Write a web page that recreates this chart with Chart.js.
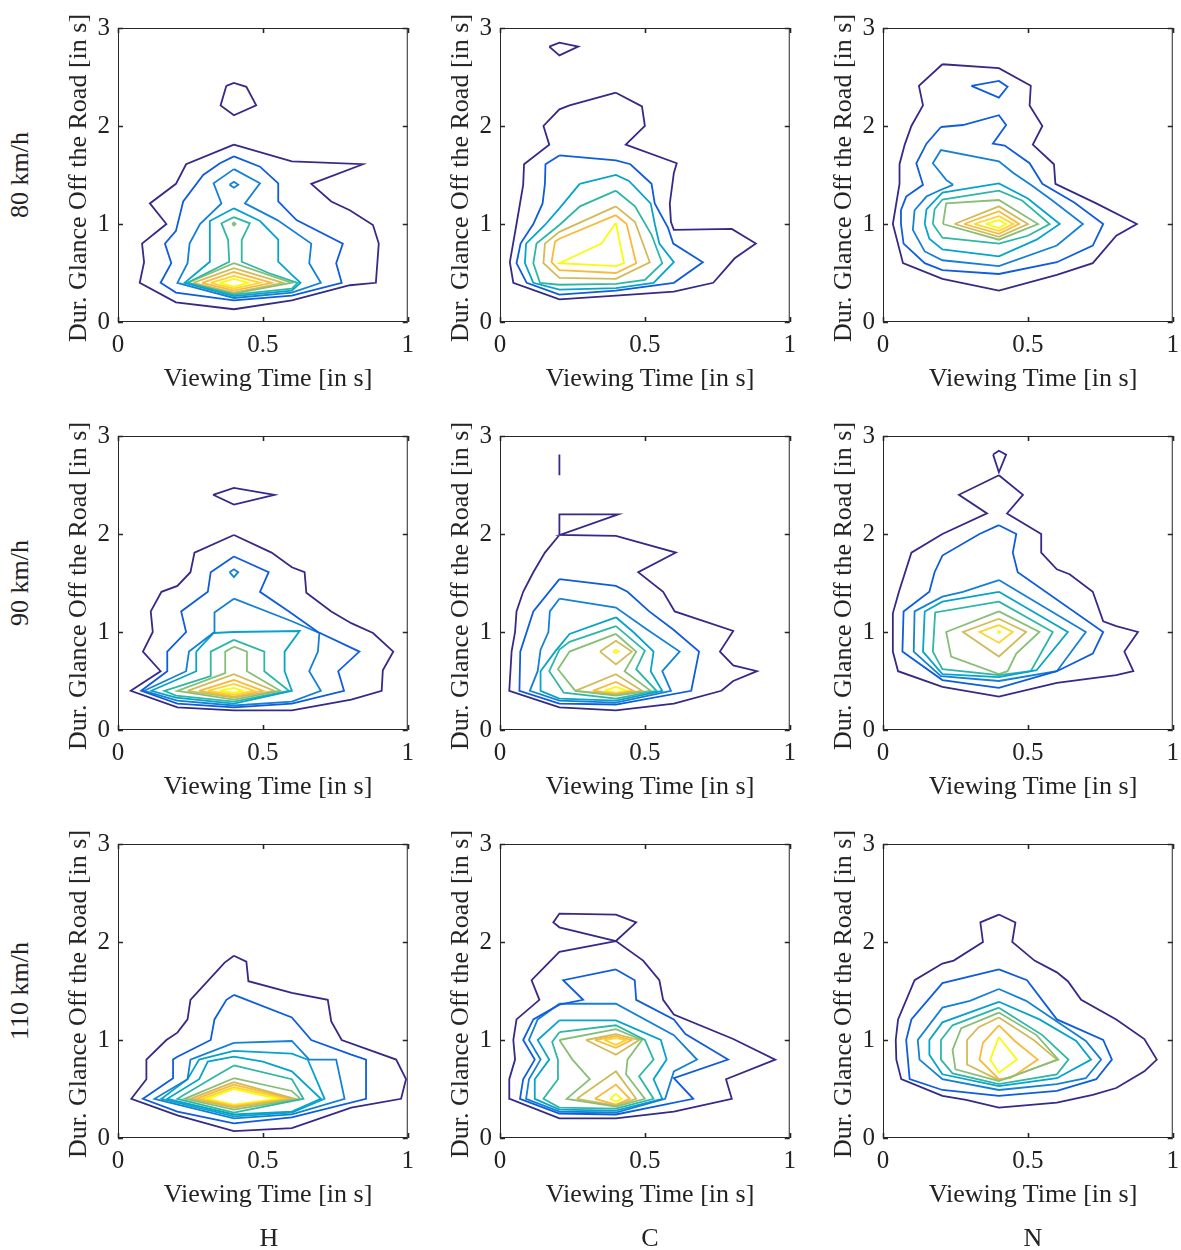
<!DOCTYPE html>
<html><head><meta charset="utf-8">
<script src="https://cdn.jsdelivr.net/npm/chart.js@4/dist/chart.umd.min.js"></script>
<style>
html,body{margin:0;padding:0;background:#fff;}
#wrap{position:relative;width:1181px;height:1250px;overflow:hidden;}
canvas{position:absolute;}
.t{position:absolute;font-family:'Liberation Serif',serif;font-size:26px;color:#222;white-space:nowrap;line-height:1;}
</style></head>
<body><div id="wrap"></div>
<script>
// ---------- data ----------
const COLUMNS = ['H','C','N'];
const ROWS = ['80 km/h','90 km/h','110 km/h'];
const X_TICKS = [0, 0.5, 1];
const Y_TICKS = [0, 1, 2, 3];
const X_TITLE = 'Viewing Time [in s]';
const Y_TITLE = 'Dur. Glance Off the Road [in s]';
// each entry: [contour level index, [[x,y],...]]
const H80 = [
[0,[[0.40,1.81],[0.60,1.64],[0.845,1.61],[0.667,1.41],[0.736,1.23],[0.80,1.14],[0.88,0.99],[0.90,0.80],[0.89,0.40],[0.80,0.375],[0.60,0.22],[0.40,0.13],[0.20,0.20],[0.075,0.40],[0.09,0.61],[0.083,0.80],[0.167,1.0],[0.11,1.21],[0.20,1.41],[0.235,1.61],[0.40,1.81]]],
[0,[[0.374,2.41],[0.40,2.44],[0.443,2.40],[0.477,2.21],[0.40,2.11],[0.354,2.21],[0.374,2.41]]],
[1,[[0.40,1.69],[0.49,1.585],[0.553,1.415],[0.553,1.23],[0.616,1.04],[0.776,0.80],[0.753,0.60],[0.772,0.40],[0.60,0.27],[0.40,0.22],[0.20,0.30],[0.147,0.40],[0.184,0.60],[0.162,0.80],[0.20,0.93],[0.225,1.23],[0.294,1.50],[0.352,1.62],[0.40,1.69]]],
[2,[[0.40,1.56],[0.49,1.415],[0.438,1.21],[0.55,1.04],[0.667,0.80],[0.66,0.60],[0.70,0.40],[0.60,0.30],[0.40,0.245],[0.205,0.40],[0.24,0.60],[0.247,0.80],[0.283,1.0],[0.357,1.21],[0.33,1.415],[0.40,1.56]]],
[2,[[0.385,1.40],[0.40,1.43],[0.415,1.40],[0.40,1.37],[0.385,1.40]]],
[3,[[0.40,1.16],[0.49,1.03],[0.553,0.84],[0.553,0.615],[0.60,0.48],[0.63,0.40],[0.60,0.32],[0.40,0.265],[0.23,0.40],[0.317,0.615],[0.317,0.74],[0.317,1.03],[0.40,1.16]]],
[4,[[0.40,1.07],[0.455,1.007],[0.427,0.837],[0.427,0.615],[0.52,0.50],[0.62,0.40],[0.60,0.34],[0.40,0.28],[0.24,0.40],[0.384,0.615],[0.38,0.837],[0.357,1.007],[0.40,1.07]]],
[5,[[0.394,1.0],[0.40,1.015],[0.406,1.0],[0.40,0.985],[0.394,1.0]]],
[5,[[0.24,0.40],[0.40,0.60],[0.60,0.40],[0.40,0.29],[0.24,0.40]]],
[6,[[0.26,0.40],[0.40,0.55],[0.57,0.40],[0.40,0.30],[0.26,0.40]]],
[7,[[0.29,0.40],[0.40,0.51],[0.53,0.40],[0.40,0.32],[0.29,0.40]]],
[8,[[0.32,0.40],[0.40,0.47],[0.49,0.40],[0.40,0.34],[0.32,0.40]]],
[9,[[0.35,0.40],[0.40,0.44],[0.45,0.40],[0.40,0.36],[0.35,0.40]]]
];
const C80 = [
[0,[[0.40,2.34],[0.49,2.20],[0.50,2.00],[0.434,1.81],[0.61,1.62],[0.60,1.52],[0.586,1.21],[0.59,1.02],[0.60,0.94],[0.80,0.95],[0.883,0.80],[0.81,0.65],[0.736,0.40],[0.60,0.31],[0.40,0.27],[0.205,0.23],[0.046,0.40],[0.034,0.61],[0.057,1.0],[0.08,1.40],[0.083,1.61],[0.17,1.81],[0.15,2.0],[0.205,2.17],[0.24,2.21],[0.40,2.34]]],
[0,[[0.17,2.81],[0.205,2.85],[0.27,2.81],[0.205,2.72],[0.17,2.81]]],
[1,[[0.205,1.70],[0.40,1.65],[0.45,1.61],[0.523,1.41],[0.534,1.21],[0.58,0.96],[0.598,0.80],[0.70,0.61],[0.60,0.40],[0.40,0.32],[0.205,0.28],[0.092,0.40],[0.057,0.60],[0.071,0.80],[0.115,1.0],[0.147,1.21],[0.155,1.41],[0.157,1.61],[0.205,1.70]]],
[3,[[0.275,1.41],[0.40,1.50],[0.445,1.44],[0.52,1.21],[0.535,0.99],[0.55,0.80],[0.60,0.61],[0.53,0.40],[0.40,0.345],[0.205,0.33],[0.115,0.40],[0.086,0.60],[0.09,0.80],[0.155,0.99],[0.205,1.16],[0.275,1.41]]],
[4,[[0.40,1.34],[0.466,1.18],[0.523,0.89],[0.56,0.60],[0.50,0.43],[0.40,0.39],[0.205,0.38],[0.138,0.40],[0.115,0.60],[0.126,0.80],[0.205,0.99],[0.276,1.18],[0.40,1.34]]],
[6,[[0.40,1.18],[0.466,1.02],[0.517,0.61],[0.40,0.44],[0.205,0.45],[0.15,0.60],[0.155,0.80],[0.205,0.92],[0.40,1.18]]],
[7,[[0.40,1.09],[0.437,1.0],[0.47,0.60],[0.40,0.50],[0.205,0.53],[0.178,0.61],[0.19,0.82],[0.205,0.85],[0.40,1.09]]],
[9,[[0.40,1.01],[0.428,0.60],[0.40,0.57],[0.205,0.60],[0.35,0.80],[0.40,1.01]]]
];
const N80 = [
[0,[[0.205,2.63],[0.40,2.59],[0.51,2.41],[0.506,2.21],[0.55,2.0],[0.517,1.81],[0.59,1.61],[0.595,1.41],[0.736,1.21],[0.876,1.0],[0.805,0.88],[0.724,0.60],[0.60,0.48],[0.40,0.32],[0.205,0.44],[0.069,0.60],[0.034,1.0],[0.057,1.41],[0.057,1.61],[0.075,1.81],[0.098,2.0],[0.138,2.21],[0.124,2.41],[0.205,2.63]]],
[1,[[0.305,2.41],[0.40,2.46],[0.43,2.40],[0.40,2.29],[0.305,2.41]]],
[1,[[0.20,1.99],[0.276,2.01],[0.40,2.11],[0.425,2.01],[0.379,1.82],[0.42,1.80],[0.506,1.62],[0.55,1.41],[0.66,1.22],[0.76,1.0],[0.724,0.78],[0.60,0.61],[0.40,0.49],[0.205,0.53],[0.144,0.60],[0.071,0.80],[0.062,1.0],[0.062,1.14],[0.08,1.28],[0.138,1.40],[0.115,1.62],[0.15,1.82],[0.20,1.99]]],
[2,[[0.242,1.40],[0.218,1.45],[0.172,1.62],[0.20,1.755],[0.40,1.64],[0.45,1.52],[0.51,1.40],[0.58,1.25],[0.69,1.0],[0.60,0.78],[0.40,0.57],[0.205,0.63],[0.144,0.72],[0.103,0.94],[0.109,1.14],[0.15,1.28],[0.20,1.35],[0.242,1.40]]],
[3,[[0.144,1.0],[0.15,1.15],[0.205,1.32],[0.40,1.415],[0.50,1.26],[0.61,1.0],[0.53,0.84],[0.40,0.67],[0.205,0.74],[0.16,0.85],[0.144,1.0]]],
[4,[[0.172,1.0],[0.178,1.15],[0.205,1.25],[0.40,1.34],[0.48,1.24],[0.575,1.0],[0.50,0.88],[0.40,0.80],[0.205,0.86],[0.172,1.0]]],
[5,[[0.207,1.0],[0.218,1.21],[0.40,1.245],[0.535,1.0],[0.40,0.84],[0.207,1.0]]],
[6,[[0.247,1.0],[0.40,1.18],[0.50,1.0],[0.40,0.87],[0.247,1.0]]],
[7,[[0.28,1.0],[0.40,1.13],[0.47,1.0],[0.40,0.90],[0.28,1.0]]],
[8,[[0.315,1.0],[0.40,1.08],[0.45,1.0],[0.40,0.93],[0.315,1.0]]],
[9,[[0.355,1.0],[0.40,1.04],[0.425,1.0],[0.40,0.96],[0.355,1.0]]]
];
const H90 = [
[0,[[0.40,1.99],[0.53,1.81],[0.60,1.66],[0.644,1.61],[0.65,1.40],[0.736,1.21],[0.805,1.09],[0.88,0.99],[0.95,0.80],[0.914,0.61],[0.91,0.40],[0.805,0.31],[0.60,0.20],[0.40,0.20],[0.205,0.23],[0.044,0.40],[0.147,0.60],[0.086,0.80],[0.12,1.0],[0.113,1.21],[0.15,1.41],[0.205,1.47],[0.25,1.61],[0.264,1.81],[0.40,1.99]]],
[0,[[0.328,2.40],[0.40,2.47],[0.54,2.40],[0.40,2.30],[0.328,2.40]]],
[1,[[0.40,1.77],[0.52,1.61],[0.49,1.41],[0.59,1.21],[0.69,1.0],[0.833,0.80],[0.76,0.60],[0.78,0.40],[0.60,0.27],[0.40,0.23],[0.205,0.27],[0.08,0.40],[0.17,0.60],[0.17,0.80],[0.235,1.0],[0.218,1.21],[0.31,1.41],[0.32,1.61],[0.40,1.77]]],
[2,[[0.385,1.61],[0.40,1.64],[0.415,1.61],[0.40,1.56],[0.385,1.61]]],
[2,[[0.40,1.34],[0.60,1.11],[0.695,0.99],[0.69,0.80],[0.66,0.60],[0.70,0.40],[0.60,0.29],[0.40,0.25],[0.205,0.30],[0.09,0.40],[0.235,0.60],[0.245,0.80],[0.333,1.0],[0.333,1.2],[0.40,1.34]]],
[3,[[0.27,0.80],[0.33,0.99],[0.40,1.0],[0.627,1.01],[0.575,0.80],[0.575,0.60],[0.60,0.40],[0.40,0.27],[0.20,0.33],[0.115,0.40],[0.27,0.60],[0.27,0.80]]],
[4,[[0.40,0.92],[0.505,0.80],[0.505,0.60],[0.59,0.40],[0.40,0.29],[0.20,0.35],[0.16,0.40],[0.32,0.55],[0.32,0.80],[0.40,0.92]]],
[5,[[0.40,0.85],[0.445,0.80],[0.445,0.60],[0.56,0.40],[0.40,0.31],[0.205,0.40],[0.37,0.58],[0.37,0.80],[0.40,0.85]]],
[6,[[0.24,0.40],[0.40,0.57],[0.54,0.40],[0.40,0.33],[0.24,0.40]]],
[7,[[0.28,0.40],[0.40,0.51],[0.50,0.40],[0.40,0.34],[0.28,0.40]]],
[8,[[0.31,0.40],[0.40,0.47],[0.47,0.40],[0.40,0.36],[0.31,0.40]]],
[9,[[0.35,0.40],[0.40,0.43],[0.43,0.40],[0.40,0.38],[0.35,0.40]]]
];
const C90 = [
[0,[[0.205,2.81],[0.205,2.60]]],
[0,[[0.205,1.99],[0.205,2.20],[0.408,2.20],[0.207,1.99],[0.40,1.98],[0.607,1.81],[0.477,1.61],[0.563,1.41],[0.603,1.21],[0.805,1.01],[0.759,0.80],[0.805,0.66],[0.887,0.60],[0.805,0.50],[0.764,0.40],[0.60,0.27],[0.40,0.20],[0.205,0.23],[0.032,0.40],[0.04,0.80],[0.052,1.0],[0.057,1.21],[0.08,1.41],[0.115,1.61],[0.155,1.81],[0.205,1.99]]],
[1,[[0.205,1.54],[0.40,1.47],[0.44,1.41],[0.515,1.21],[0.60,1.02],[0.687,0.80],[0.66,0.40],[0.40,0.26],[0.205,0.27],[0.067,0.40],[0.07,0.80],[0.115,1.21],[0.205,1.54]]],
[2,[[0.205,1.34],[0.40,1.25],[0.51,1.02],[0.62,0.80],[0.56,0.60],[0.59,0.40],[0.40,0.28],[0.205,0.30],[0.103,0.40],[0.13,0.60],[0.14,0.82],[0.167,1.0],[0.172,1.21],[0.205,1.34]]],
[3,[[0.40,1.15],[0.46,1.0],[0.53,0.80],[0.52,0.60],[0.56,0.40],[0.40,0.30],[0.205,0.32],[0.14,0.40],[0.14,0.60],[0.19,0.80],[0.24,0.98],[0.40,1.15]]],
[4,[[0.40,1.06],[0.50,0.81],[0.47,0.62],[0.54,0.40],[0.40,0.32],[0.22,0.38],[0.17,0.60],[0.205,0.82],[0.24,0.90],[0.40,1.06]]],
[5,[[0.40,0.98],[0.47,0.80],[0.43,0.60],[0.52,0.40],[0.40,0.35],[0.26,0.40],[0.20,0.62],[0.24,0.80],[0.40,0.98]]],
[6,[[0.345,0.80],[0.40,0.91],[0.455,0.80],[0.40,0.67],[0.345,0.80]]],
[6,[[0.26,0.40],[0.40,0.57],[0.49,0.40],[0.40,0.36],[0.26,0.40]]],
[7,[[0.32,0.40],[0.40,0.49],[0.46,0.40],[0.40,0.37],[0.32,0.40]]],
[9,[[0.39,0.80],[0.40,0.815],[0.41,0.80],[0.40,0.785],[0.39,0.80]]],
[9,[[0.36,0.40],[0.40,0.44],[0.44,0.40],[0.40,0.385],[0.36,0.40]]]
];
const N90 = [
[0,[[0.38,2.81],[0.40,2.85],[0.425,2.81],[0.40,2.63],[0.38,2.81]]],
[0,[[0.40,2.60],[0.483,2.40],[0.428,2.21],[0.546,2.0],[0.546,1.81],[0.60,1.64],[0.644,1.59],[0.724,1.41],[0.76,1.11],[0.805,1.06],[0.88,1.0],[0.833,0.80],[0.864,0.60],[0.805,0.56],[0.60,0.48],[0.40,0.34],[0.205,0.44],[0.052,0.60],[0.034,0.80],[0.034,1.19],[0.055,1.41],[0.098,1.81],[0.205,2.0],[0.359,2.21],[0.262,2.40],[0.40,2.60]]],
[1,[[0.40,2.09],[0.46,2.0],[0.448,1.81],[0.465,1.61],[0.76,1.0],[0.724,0.78],[0.60,0.60],[0.40,0.43],[0.205,0.51],[0.067,0.80],[0.071,1.21],[0.16,1.41],[0.178,1.61],[0.205,1.78],[0.333,2.0],[0.40,2.09]]],
[2,[[0.40,1.53],[0.70,1.0],[0.60,0.60],[0.40,0.50],[0.20,0.55],[0.106,0.80],[0.109,1.21],[0.205,1.36],[0.276,1.41],[0.40,1.53]]],
[3,[[0.40,1.41],[0.638,1.0],[0.53,0.61],[0.40,0.54],[0.205,0.57],[0.138,0.80],[0.144,1.21],[0.205,1.31],[0.40,1.41]]],
[4,[[0.40,1.31],[0.586,1.0],[0.51,0.60],[0.40,0.56],[0.205,0.62],[0.172,0.80],[0.18,1.2],[0.40,1.31]]],
[5,[[0.40,1.21],[0.54,1.0],[0.46,0.78],[0.43,0.60],[0.40,0.57],[0.235,0.75],[0.218,1.0],[0.40,1.21]]],
[6,[[0.40,1.135],[0.494,1.0],[0.40,0.75],[0.276,1.0],[0.40,1.135]]],
[8,[[0.40,1.07],[0.448,1.0],[0.40,0.89],[0.333,1.0],[0.40,1.07]]],
[9,[[0.395,1.0],[0.40,1.01],[0.405,1.0],[0.40,0.99],[0.395,1.0]]]
];
const H110 = [
[0,[[0.40,1.86],[0.443,1.80],[0.45,1.60],[0.60,1.48],[0.724,1.41],[0.736,1.19],[0.772,1.0],[0.96,0.80],[0.994,0.60],[0.977,0.40],[0.805,0.31],[0.60,0.10],[0.40,0.07],[0.205,0.23],[0.046,0.40],[0.098,0.60],[0.098,0.80],[0.167,1.0],[0.205,1.075],[0.24,1.21],[0.25,1.41],[0.368,1.79],[0.40,1.86]]],
[1,[[0.40,1.46],[0.60,1.23],[0.667,1.0],[0.805,0.85],[0.856,0.80],[0.856,0.40],[0.60,0.21],[0.40,0.15],[0.205,0.27],[0.086,0.40],[0.19,0.61],[0.19,0.80],[0.205,0.83],[0.32,1.0],[0.333,1.21],[0.374,1.41],[0.40,1.46]]],
[2,[[0.40,0.97],[0.60,0.99],[0.66,0.80],[0.753,0.80],[0.782,0.40],[0.60,0.24],[0.40,0.20],[0.126,0.40],[0.24,0.60],[0.25,0.80],[0.40,0.97]]],
[3,[[0.40,0.89],[0.60,0.86],[0.655,0.80],[0.713,0.40],[0.60,0.26],[0.40,0.22],[0.15,0.40],[0.24,0.60],[0.28,0.80],[0.40,0.89]]],
[3,[[0.40,0.83],[0.50,0.78],[0.60,0.68],[0.70,0.40],[0.60,0.27],[0.40,0.24],[0.17,0.40],[0.28,0.60],[0.31,0.78],[0.40,0.83]]],
[4,[[0.40,0.74],[0.60,0.60],[0.64,0.40],[0.40,0.26],[0.205,0.40],[0.33,0.62],[0.40,0.74]]],
[5,[[0.40,0.61],[0.60,0.48],[0.63,0.40],[0.40,0.29],[0.23,0.40],[0.40,0.61]]],
[6,[[0.40,0.57],[0.61,0.40],[0.40,0.31],[0.25,0.40],[0.40,0.57]]],
[7,[[0.40,0.545],[0.60,0.40],[0.40,0.32],[0.27,0.40],[0.40,0.545]]],
[8,[[0.40,0.52],[0.58,0.40],[0.40,0.33],[0.29,0.40],[0.40,0.52]]],
[9,[[0.40,0.50],[0.55,0.40],[0.40,0.34],[0.31,0.40],[0.40,0.50]]]
];
const C110 = [
[0,[[0.40,2.01],[0.47,2.20],[0.40,2.28],[0.205,2.29],[0.184,2.20],[0.205,2.15],[0.40,2.01],[0.494,1.81],[0.55,1.61],[0.563,1.41],[0.60,1.26],[0.805,1.01],[0.95,0.80],[0.78,0.60],[0.80,0.40],[0.60,0.27],[0.40,0.20],[0.205,0.20],[0.034,0.40],[0.032,0.60],[0.052,0.80],[0.046,1.0],[0.057,1.21],[0.136,1.41],[0.109,1.61],[0.205,1.90],[0.40,2.01]]],
[1,[[0.40,1.72],[0.465,1.61],[0.47,1.41],[0.60,1.21],[0.64,1.06],[0.787,0.80],[0.60,0.61],[0.667,0.40],[0.40,0.24],[0.205,0.25],[0.069,0.40],[0.08,0.60],[0.12,0.80],[0.08,1.0],[0.115,1.21],[0.205,1.36],[0.287,1.41],[0.218,1.61],[0.40,1.72]]],
[2,[[0.205,1.37],[0.40,1.37],[0.60,1.05],[0.68,0.80],[0.60,0.68],[0.57,0.40],[0.40,0.26],[0.205,0.27],[0.09,0.40],[0.10,0.60],[0.14,0.80],[0.10,1.0],[0.13,1.21],[0.205,1.37]]],
[3,[[0.205,1.20],[0.40,1.20],[0.555,1.0],[0.575,0.80],[0.53,0.60],[0.56,0.40],[0.40,0.28],[0.205,0.29],[0.12,0.40],[0.12,0.60],[0.17,0.80],[0.13,1.0],[0.205,1.20]]],
[4,[[0.205,1.08],[0.40,1.15],[0.50,1.0],[0.53,0.80],[0.48,0.63],[0.53,0.40],[0.40,0.30],[0.205,0.31],[0.15,0.40],[0.20,0.60],[0.20,0.80],[0.18,0.98],[0.205,1.08]]],
[5,[[0.205,1.0],[0.40,1.11],[0.49,1.0],[0.44,0.80],[0.435,0.65],[0.50,0.40],[0.40,0.32],[0.23,0.40],[0.31,0.60],[0.25,0.80],[0.205,1.0]]],
[6,[[0.297,1.0],[0.40,1.06],[0.48,1.0],[0.40,0.85],[0.297,1.0]]],
[6,[[0.265,0.40],[0.40,0.68],[0.47,0.40],[0.40,0.33],[0.265,0.40]]],
[7,[[0.328,1.0],[0.40,1.04],[0.454,1.0],[0.40,0.92],[0.328,1.0]]],
[7,[[0.328,0.40],[0.40,0.545],[0.448,0.40],[0.40,0.34],[0.328,0.40]]],
[8,[[0.36,1.0],[0.40,1.02],[0.435,1.0],[0.40,0.95],[0.36,1.0]]],
[9,[[0.38,0.40],[0.40,0.45],[0.42,0.40],[0.40,0.37],[0.38,0.40]]]
];
const N110 = [
[0,[[0.40,2.28],[0.457,2.20],[0.446,2.0],[0.523,1.81],[0.60,1.69],[0.638,1.60],[0.684,1.41],[0.805,1.21],[0.902,1.01],[0.945,0.80],[0.902,0.68],[0.805,0.51],[0.724,0.44],[0.60,0.36],[0.40,0.31],[0.287,0.39],[0.205,0.43],[0.063,0.60],[0.046,0.80],[0.044,1.0],[0.052,1.21],[0.109,1.61],[0.205,1.78],[0.244,1.81],[0.345,2.0],[0.336,2.20],[0.40,2.28]]],
[1,[[0.40,1.72],[0.497,1.61],[0.60,1.21],[0.76,1.0],[0.79,0.80],[0.736,0.60],[0.60,0.48],[0.40,0.43],[0.205,0.49],[0.092,0.60],[0.08,1.0],[0.098,1.21],[0.205,1.58],[0.40,1.72]]],
[2,[[0.40,1.52],[0.494,1.40],[0.60,1.19],[0.70,0.99],[0.753,0.80],[0.70,0.61],[0.60,0.55],[0.40,0.49],[0.205,0.60],[0.126,0.80],[0.12,1.0],[0.205,1.33],[0.30,1.40],[0.40,1.52]]],
[3,[[0.40,1.39],[0.54,1.21],[0.667,0.99],[0.718,0.80],[0.60,0.61],[0.40,0.53],[0.205,0.65],[0.16,0.85],[0.16,1.0],[0.205,1.18],[0.40,1.39]]],
[4,[[0.40,1.33],[0.55,1.05],[0.64,0.80],[0.60,0.65],[0.40,0.55],[0.24,0.66],[0.20,0.80],[0.20,1.0],[0.24,1.15],[0.40,1.33]]],
[5,[[0.40,1.28],[0.53,1.05],[0.605,0.80],[0.40,0.58],[0.25,0.70],[0.24,0.90],[0.27,1.12],[0.40,1.28]]],
[6,[[0.40,1.23],[0.52,1.0],[0.60,0.80],[0.45,0.63],[0.40,0.59],[0.29,0.75],[0.29,1.0],[0.33,1.13],[0.40,1.23]]],
[7,[[0.40,1.15],[0.455,0.99],[0.534,0.80],[0.44,0.61],[0.40,0.60],[0.333,0.80],[0.345,0.97],[0.40,1.15]]],
[9,[[0.40,1.03],[0.462,0.80],[0.40,0.665],[0.37,0.80],[0.40,1.03]]]
];
const PANELS = [[H80, C80, N80], [H90, C90, N90], [H110, C110, N110]];

// ---------- styles / layout ----------
const LEVEL_COLORS = ['#352a87','#0f5cdd','#1481d6','#06a4ca','#2eb7a4','#87bf77','#d1bb59','#fbb93a','#fcd52c','#f9fb0e'];
const PLOT_LEFT = [118, 500, 883];
const PLOT_TOP = [28, 436, 844];
const PW = 290, PH = 294;
const AX_W = 75, AX_H = 75, PAD_T = 18, PAD_R = 14;
const TICK_FONT = {family: "'Liberation Serif', serif", size: 25};
const TXT = '#222';

const wrap = document.getElementById('wrap');
function addText(str, cx, cy, rot) {
  const d = document.createElement('div');
  d.className = 't';
  d.textContent = str;
  d.style.left = cx + 'px';
  d.style.top = cy + 'px';
  d.style.transform = 'translate(-50%,-50%)' + (rot ? ' rotate(-90deg)' : '');
  wrap.appendChild(d);
}

const boxPlugin = {
  id: 'box',
  afterDraw(chart) {
    const {ctx, chartArea: a, scales: {x, y}} = chart;
    ctx.save();
    ctx.strokeStyle = '#262626';
    ctx.lineWidth = 1;
    ctx.strokeRect(a.left + 0.5, a.top + 0.5, a.right - a.left - 1, a.bottom - a.top - 1);
    ctx.lineWidth = 1.6;
    ctx.beginPath();
    X_TICKS.forEach(v => {
      const p = Math.round(x.getPixelForValue(v)) + 0.5;
      ctx.moveTo(p, a.bottom); ctx.lineTo(p, a.bottom - 5);
      ctx.moveTo(p, a.top); ctx.lineTo(p, a.top + 5);
    });
    Y_TICKS.forEach(v => {
      const p = Math.round(y.getPixelForValue(v)) + 0.5;
      ctx.moveTo(a.left, p); ctx.lineTo(a.left + 5, p);
      ctx.moveTo(a.right, p); ctx.lineTo(a.right - 5, p);
    });
    ctx.stroke();
    ctx.restore();
  }
};

function buildChart(cv, contours, W, H) {
  cv.width = W; cv.height = H;
  cv.style.width = W + 'px'; cv.style.height = H + 'px';
  const datasets = contours.map(([lvl, pts]) => ({
    data: pts.map(([px, py]) => ({x: px, y: py})),
    showLine: true,
    borderColor: LEVEL_COLORS[lvl],
    borderWidth: 1.8,
    pointRadius: 0,
    pointHoverRadius: 0,
    fill: false,
    tension: 0
  }));
  return new Chart(cv, {
    type: 'scatter',
    data: {datasets},
    options: {
      responsive: false,
      maintainAspectRatio: false,
      animation: false,
      devicePixelRatio: 1,
      layout: {padding: {top: PAD_T, right: PAD_R, left: 0, bottom: 0}},
      plugins: {legend: {display: false}, tooltip: {enabled: false}},
      events: [],
      scales: {
        x: {
          type: 'linear', min: 0, max: 1,
          afterBuildTicks: s => { s.ticks = X_TICKS.map(v => ({value: v})); },
          afterFit: s => { s.height = AX_H; },
          ticks: {font: TICK_FONT, color: TXT, padding: 8, maxRotation: 0, callback: v => String(v)},
          grid: {display: false, drawTicks: false},
          border: {display: false}
        },
        y: {
          type: 'linear', min: 0, max: 3,
          afterBuildTicks: s => { s.ticks = Y_TICKS.map(v => ({value: v})); },
          afterFit: s => { s.width = AX_W; },
          ticks: {font: TICK_FONT, color: TXT, padding: 8, callback: v => String(v)},
          grid: {display: false, drawTicks: false},
          border: {display: false}
        }
      }
    },
    plugins: [boxPlugin]
  });
}

PANELS.forEach((row, r) => {
  row.forEach((contours, c) => {
    const cv = document.createElement('canvas');
    wrap.appendChild(cv);
    const W = AX_W + PW + PAD_R;
    let H = PAD_T + PH + AX_H;
    let chart = buildChart(cv, contours, W, H);
    let a = chart.chartArea;
    const diffH = PH - (a.bottom - a.top);
    const diffW = PW - (a.right - a.left);
    if (Math.abs(diffH) > 0.5 || Math.abs(diffW) > 0.5) {
      chart.destroy();
      chart = buildChart(cv, contours, W + diffW, H + diffH);
      a = chart.chartArea;
    }
    cv.style.left = (PLOT_LEFT[c] - a.left) + 'px';
    cv.style.top = (PLOT_TOP[r] - a.top) + 'px';
    addText(Y_TITLE, PLOT_LEFT[c] - 40, PLOT_TOP[r] + PH / 2 + 3, true);
    addText(X_TITLE, PLOT_LEFT[c] + PW / 2 + 5, PLOT_TOP[r] + PH + 56, false);
  });
  addText(ROWS[r], 20, PLOT_TOP[r] + PH / 2, true);
});
const COL_CENTERS = [269, 650, 1033];
COLUMNS.forEach((s, c) => addText(s, COL_CENTERS[c], 1238, false));
</script>
</body></html>
